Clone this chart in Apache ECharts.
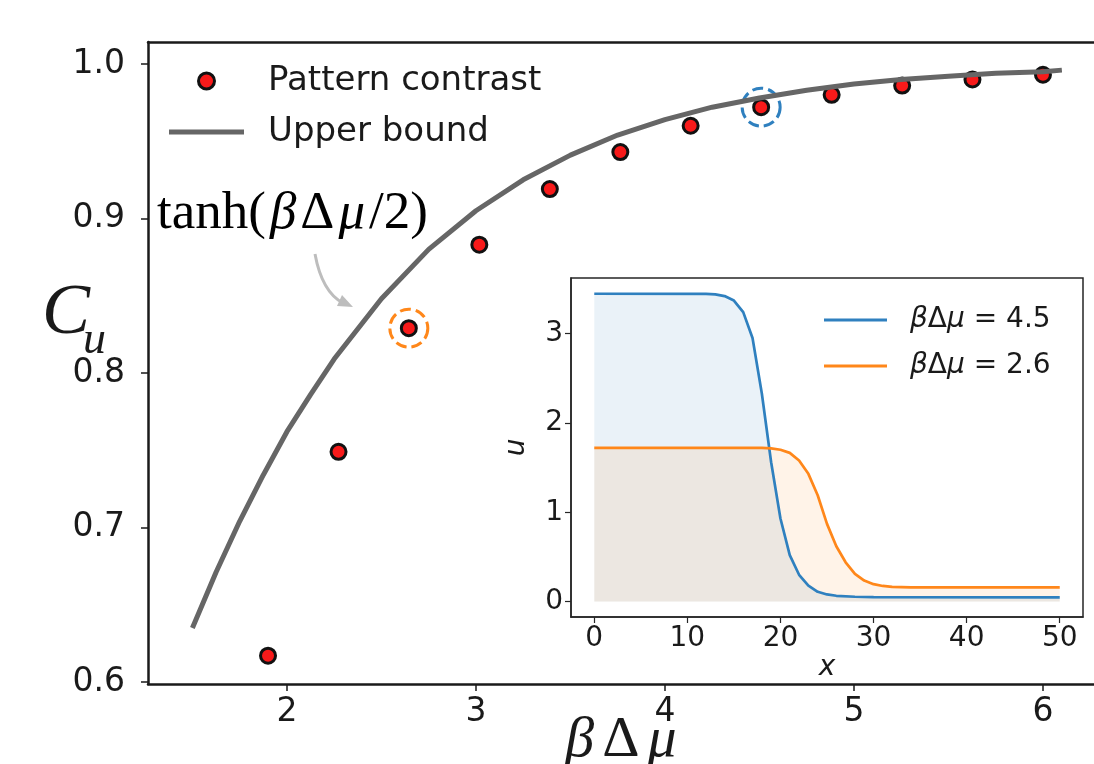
<!DOCTYPE html>
<html>
<head>
<meta charset="utf-8">
<script src="https://cdn.jsdelivr.net/npm/echarts@6/dist/echarts.min.js"></script>
<style>
  html, body { margin: 0; padding: 0; background: #fff; }
  #chart { width: 1094px; height: 764px; }
</style>
</head>
<body>
<div id="chart"></div>
<script>
// main panel: pattern contrast vs beta*delta-mu
const contrastX = [1.9, 2.273, 2.645, 3.018, 3.391, 3.764, 4.136, 4.509, 4.882, 5.255, 5.627, 6.0]
const contrastY = [0.617, 0.749, 0.829, 0.883, 0.919, 0.943, 0.960, 0.972, 0.980, 0.986, 0.990, 0.993]

// upper bound curve
const boundX = [1.5, 1.625, 1.75, 1.875, 2.0, 2.125, 2.25, 2.5, 2.75, 3.0, 3.25, 3.5, 3.75, 4.0, 4.25, 4.5, 4.75, 5.0, 5.25, 5.5, 5.75, 6.0, 6.1]
const boundY = [0.635, 0.671, 0.704, 0.734, 0.762, 0.786, 0.809, 0.848, 0.880, 0.905, 0.925, 0.941, 0.954, 0.964, 0.972, 0.978, 0.983, 0.987, 0.990, 0.992, 0.994, 0.995, 0.996]

// highlighted points (index into contrastX / contrastY)
const highlightIdx = [2, 7]

const mainXTicks = [2, 3, 4, 5, 6]
const mainYTicks = [0.6, 0.7, 0.8, 0.9, 1.0]

// inset: profiles u(x)
const blueX = [0, 12, 13, 14, 15, 16, 17, 18, 19, 20, 21, 22, 23, 24, 25, 26, 28, 30, 50]
const blueU = [3.446, 3.445, 3.44, 3.42, 3.37, 3.24, 2.95, 2.33, 1.56, 0.93, 0.52, 0.30, 0.18, 0.11, 0.08, 0.065, 0.054, 0.05, 0.048]
const orangeX = [0, 18, 19, 20, 21, 22, 23, 24, 25, 26, 27, 28, 29, 30, 31, 32, 34, 50]
const orangeU = [1.72, 1.72, 1.715, 1.70, 1.665, 1.58, 1.43, 1.19, 0.87, 0.62, 0.44, 0.31, 0.235, 0.195, 0.175, 0.165, 0.16, 0.16]

const insetXTicks = [0, 10, 20, 30, 40, 50]
const insetYTicks = [0, 1, 2, 3]

const ink = '#1a1a1a'
const sans = 'DejaVu Sans'
const serif = 'Liberation Serif'
const red = '#f81a1a'
const blue = '#2f80bf'
const orange = '#ff871a'
const gray = '#666666'

function pairs (xs, ys) {
  return xs.map((x, i) => [x, ys[i]])
}

const chart = echarts.init(document.getElementById('chart'))

const mathRich = (size, pad) => ({
  i: { fontFamily: serif, fontStyle: 'italic', fontSize: size, color: ink, padding: [0, pad] },
  r: { fontFamily: serif, fontSize: size, color: ink, padding: [0, pad] }
})

const option = {
  animation: false,
  textStyle: { fontFamily: sans },
  grid: [
    { left: 148, top: 42, right: 0, bottom: 80, containLabel: false, outerBoundsMode: 'none' },
    {
      left: 571, top: 278, width: 512, height: 339,
      containLabel: false, outerBoundsMode: 'none',
      show: true, backgroundColor: '#fff', borderColor: '#262626', borderWidth: 1.5
    }
  ],
  legend: [
    {
      orient: 'vertical',
      left: 169,
      top: 64,
      padding: 0,
      itemWidth: 75,
      itemHeight: 16,
      itemGap: 17,
      selectedMode: false,
      textStyle: { fontFamily: sans, fontSize: 34, color: ink, padding: [0, 0, 0, 19] },
      data: [
        { name: 'Pattern contrast', icon: 'circle', itemStyle: { color: red, borderColor: '#111', borderWidth: 3 } },
        { name: 'Upper bound', icon: 'path://M0,0L75,0L75,5L0,5Z', itemStyle: { color: gray, borderWidth: 0 } }
      ]
    },
    {
      orient: 'vertical',
      left: 824,
      top: 306,
      padding: 0,
      itemWidth: 63,
      itemHeight: 14,
      itemGap: 18,
      selectedMode: false,
      formatter: (n) => '{g|β}{d|Δ}{g|μ}{d| = ' + n.split('= ')[1] + '}',
      textStyle: {
        padding: [0, 0, 0, 18],
        rich: {
          g: { fontFamily: sans, fontStyle: 'italic', fontSize: 28, color: ink },
          d: { fontFamily: sans, fontSize: 28, color: ink }
        }
      },
      data: [
        { name: 'βΔμ = 4.5', icon: 'path://M0,0L63,0L63,3L0,3Z', itemStyle: { color: blue, borderWidth: 0 } },
        { name: 'βΔμ = 2.6', icon: 'path://M0,0L63,0L63,3L0,3Z', itemStyle: { color: orange, borderWidth: 0 } }
      ]
    }
  ],
  xAxis: [
    {
      gridIndex: 0,
      type: 'value',
      min: 1.265,
      max: 6.27,
      position: 'bottom',
      splitLine: { show: false },
      axisLine: { show: true, onZero: false, lineStyle: { color: ink, width: 2.5 } },
      axisTick: { show: true, length: 7, lineStyle: { color: ink, width: 1.5 }, customValues: mainXTicks },
      axisLabel: { fontSize: 33, color: ink, margin: 12, customValues: mainXTicks },
      name: '{i|β}{r|Δ}{i|μ}',
      nameLocation: 'middle',
      nameGap: 28,
      nameMoveOverlap: false,
      nameTextStyle: { rich: mathRich(58, 4) }
    },
    {
      gridIndex: 0,
      type: 'value',
      min: 1.265,
      max: 6.27,
      position: 'top',
      splitLine: { show: false },
      axisLine: { show: true, onZero: false, lineStyle: { color: ink, width: 2.5 } },
      axisTick: { show: false },
      axisLabel: { show: false }
    },
    {
      gridIndex: 1,
      type: 'value',
      min: -2.5,
      max: 52.5,
      splitLine: { show: false },
      axisLine: { show: true, onZero: false, lineStyle: { color: '#262626', width: 1.5 } },
      axisTick: { show: true, length: 6, lineStyle: { color: '#262626', width: 1.2 }, customValues: insetXTicks },
      axisLabel: { fontSize: 28, color: ink, margin: 8, customValues: insetXTicks },
      name: 'x',
      nameLocation: 'middle',
      nameGap: 36,
      nameTextStyle: { fontFamily: sans, fontStyle: 'italic', fontSize: 28, color: ink }
    }
  ],
  yAxis: [
    {
      gridIndex: 0,
      type: 'value',
      min: 0.5987,
      max: 1.0142,
      splitLine: { show: false },
      axisLine: { show: true, onZero: false, lineStyle: { color: ink, width: 2.5 } },
      axisTick: { show: true, length: 7, lineStyle: { color: ink, width: 1.5 }, customValues: mainYTicks },
      axisLabel: { fontSize: 33, color: ink, margin: 23, customValues: mainYTicks, formatter: (v) => v.toFixed(1) }
    },
    {
      gridIndex: 1,
      type: 'value',
      min: -0.1725,
      max: 3.6225,
      splitLine: { show: false },
      axisLine: { show: true, onZero: false, lineStyle: { color: '#262626', width: 1.5 } },
      axisTick: { show: true, length: 6, lineStyle: { color: '#262626', width: 1.2 }, customValues: insetYTicks },
      axisLabel: { fontSize: 28, color: ink, margin: 8, customValues: insetYTicks },
      name: 'u',
      nameLocation: 'middle',
      nameRotate: 90,
      nameGap: 40,
      nameTextStyle: { fontFamily: sans, fontStyle: 'italic', fontSize: 28, color: ink }
    }
  ],
  graphic: [
    {
      type: 'text',
      left: 42,
      top: 278,
      style: { text: 'C', font: 'italic 72px "Liberation Serif"', fill: ink }
    },
    {
      type: 'text',
      left: 83,
      top: 318,
      style: { text: 'u', font: 'italic 46px "Liberation Serif"', fill: ink }
    },
    {
      type: 'text',
      left: 157,
      top: 188,
      style: {
        text: '{r|tanh(}{i|β}{r|Δ}{i|μ}{r|/2)}',
        rich: mathRich(53, 2)
      }
    },
    {
      type: 'bezierCurve',
      shape: { x1: 315, y1: 254, cpx1: 322, cpy1: 292, x2: 343, y2: 303 },
      style: { stroke: '#bdbdbd', lineWidth: 3, fill: null }
    },
    {
      type: 'polygon',
      shape: { points: [[353, 307], [337, 306], [342, 295]] },
      style: { fill: '#bdbdbd' }
    }
  ],
  series: [
    {
      name: 'Pattern contrast',
      type: 'scatter',
      xAxisIndex: 0,
      yAxisIndex: 0,
      symbol: 'circle',
      symbolSize: 15,
      itemStyle: { color: red, borderColor: '#111', borderWidth: 3, opacity: 1 },
      data: pairs(contrastX, contrastY),
      z: 2
    },
    {
      name: 'highlight',
      type: 'scatter',
      xAxisIndex: 0,
      yAxisIndex: 0,
      symbol: 'circle',
      symbolSize: 38,
      itemStyle: { color: 'rgba(0,0,0,0)', borderWidth: 3, borderType: [11, 5], opacity: 1 },
      data: [
        { value: [contrastX[highlightIdx[0]], contrastY[highlightIdx[0]]], itemStyle: { borderColor: orange } },
        { value: [contrastX[highlightIdx[1]], contrastY[highlightIdx[1]]], itemStyle: { borderColor: blue } }
      ],
      z: 3
    },
    {
      name: 'Upper bound',
      type: 'line',
      xAxisIndex: 0,
      yAxisIndex: 0,
      symbol: 'none',
      showSymbol: false,
      smooth: false,
      lineStyle: { color: gray, width: 5 },
      itemStyle: { color: gray },
      data: pairs(boundX, boundY),
      z: 4
    },
    {
      name: 'βΔμ = 4.5',
      type: 'line',
      xAxisIndex: 2,
      yAxisIndex: 1,
      symbol: 'none',
      showSymbol: false,
      lineStyle: { color: blue, width: 2.7 },
      itemStyle: { color: blue },
      areaStyle: { color: blue, opacity: 0.1 },
      data: pairs(blueX, blueU),
      z: 5
    },
    {
      name: 'βΔμ = 2.6',
      type: 'line',
      xAxisIndex: 2,
      yAxisIndex: 1,
      symbol: 'none',
      showSymbol: false,
      lineStyle: { color: orange, width: 2.7 },
      itemStyle: { color: orange },
      areaStyle: { color: orange, opacity: 0.1 },
      data: pairs(orangeX, orangeU),
      z: 5
    }
  ]
}

chart.setOption(option)
</script>
</body>
</html>
